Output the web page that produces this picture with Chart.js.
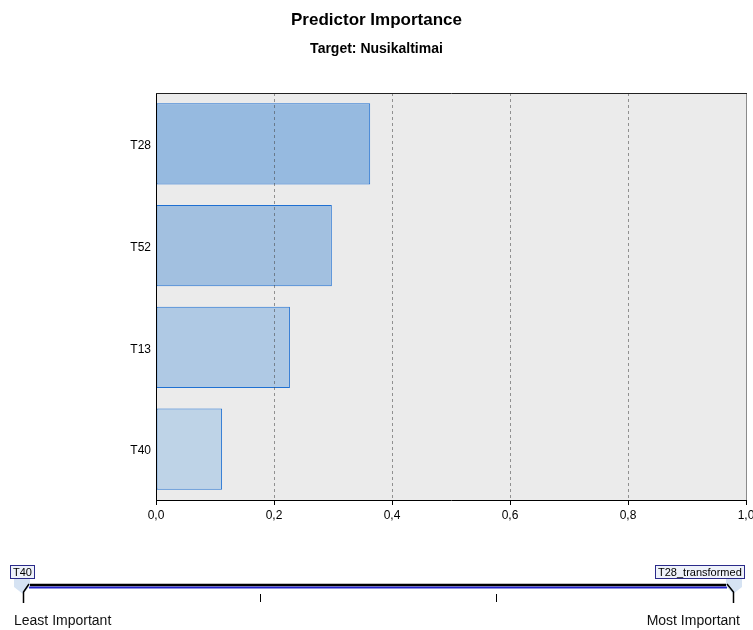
<!DOCTYPE html>
<html>
<head>
<meta charset="utf-8">
<script src="https://cdn.jsdelivr.net/npm/chart.js@4/dist/chart.umd.min.js"></script>
<style>
  html, body { margin: 0; padding: 0; background: #fff; }
  #chart { display: block; }
</style>
</head>
<body>
<canvas id="chart" width="753" height="630"></canvas>
<script>
// Predictors and their importance
const predictors = ["T28", "T52", "T13", "T40"];
const importance = [0.363, 0.298, 0.227, 0.112];
const barColors = ["#96bae0", "#a2c0e0", "#afc9e4", "#bed3e7"];

// Axis and slider text
const chartTitle = "Predictor Importance";
const chartSubtitle = "Target: Nusikaltimai";
const sliderEnds = ["T40", "T28_transformed"];
const sliderCaptions = ["Least Important", "Most Important"];

const FONT = "'Liberation Sans', Arial, sans-serif";

// Grey plot background plus top/right frame
const plotFrame = {
  id: "plotFrame",
  beforeDraw(chart) {
    const { ctx, chartArea: a } = chart;
    ctx.save();
    ctx.fillStyle = "#ebebeb";
    ctx.fillRect(a.left, a.top, a.right - a.left, a.bottom - a.top);
    ctx.restore();
  },
  afterDraw(chart) {
    const { ctx, chartArea: a } = chart;
    ctx.save();
    ctx.lineWidth = 1;
    ctx.strokeStyle = "#8a8a8a";
    ctx.beginPath();
    ctx.moveTo(a.right + 0.5, a.top);
    ctx.lineTo(a.right + 0.5, a.bottom);
    ctx.stroke();
    ctx.strokeStyle = "#222";
    ctx.beginPath();
    ctx.moveTo(a.left, a.top + 0.5);
    ctx.lineTo(a.right + 1, a.top + 0.5);
    ctx.stroke();
    ctx.restore();
  }
};

// Titles and the importance slider under the chart
const headerAndSlider = {
  id: "headerAndSlider",
  afterDraw(chart) {
    const ctx = chart.ctx;
    const w = chart.width;
    ctx.save();
    ctx.fillStyle = "#000";
    ctx.textAlign = "center";
    ctx.textBaseline = "alphabetic";
    ctx.font = "bold 17px " + FONT;
    ctx.fillText(chartTitle, w / 2, 25);
    ctx.font = "bold 14px " + FONT;
    ctx.fillText(chartSubtitle, w / 2, 53);

    const x0 = 23, x1 = 733, yLine = 585;

    // slider bar
    ctx.lineWidth = 2.5;
    ctx.strokeStyle = "#000";
    ctx.beginPath();
    ctx.moveTo(29, yLine);
    ctx.lineTo(727, yLine);
    ctx.stroke();
    ctx.lineWidth = 2;
    ctx.strokeStyle = "#2222c8";
    ctx.beginPath();
    ctx.moveTo(29, yLine + 2.5);
    ctx.lineTo(727, yLine + 2.5);
    ctx.stroke();

    // inner ticks at thirds
    ctx.lineWidth = 1;
    ctx.strokeStyle = "#000";
    for (let i = 1; i < 3; i++) {
      const x = Math.round(x0 + (x1 - x0) * i / 3) + 0.5;
      ctx.beginPath();
      ctx.moveTo(x, 594);
      ctx.lineTo(x, 602);
      ctx.stroke();
    }

    // end handles
    const handle = (x, dir) => {
      ctx.fillStyle = "#d6e3f3";
      ctx.beginPath();
      ctx.moveTo(x - 9 * dir, 579);
      ctx.lineTo(x + 7 * dir, 579);
      ctx.lineTo(x + 7 * dir, 586);
      ctx.lineTo(x, 594);
      ctx.lineTo(x - 9 * dir, 587);
      ctx.closePath();
      ctx.fill();
      ctx.strokeStyle = "#000";
      ctx.lineWidth = 1.5;
      ctx.beginPath();
      ctx.moveTo(x + 6 * dir, 584);
      ctx.lineTo(x + 0.5, 592);
      ctx.lineTo(x + 0.5, 603);
      ctx.stroke();
    };
    handle(x0, 1);
    handle(x1, -1);

    // end labels in boxes
    ctx.font = "11px " + FONT;
    ctx.textBaseline = "middle";
    const box = (text, x, align) => {
      const tw = ctx.measureText(text).width;
      const bw = Math.ceil(tw + 5);
      const bx = align === "left" ? x : x - bw;
      ctx.fillStyle = "#eef2fa";
      ctx.fillRect(bx, 565, bw, 13);
      ctx.strokeStyle = "#2a2a8a";
      ctx.lineWidth = 1;
      ctx.strokeRect(bx + 0.5, 565.5, bw, 13);
      ctx.fillStyle = "#000";
      ctx.textAlign = "left";
      ctx.fillText(text, bx + 3, 572.5);
    };
    box(sliderEnds[0], 10, "left");
    box(sliderEnds[1], 744, "right");

    ctx.font = "14px " + FONT;
    ctx.fillStyle = "#111";
    ctx.textBaseline = "alphabetic";
    ctx.textAlign = "left";
    ctx.fillText(sliderCaptions[0], 14, 625);
    ctx.textAlign = "right";
    ctx.fillText(sliderCaptions[1], 740, 625);
    ctx.restore();
  }
};

new Chart(document.getElementById("chart"), {
  type: "bar",
  data: {
    labels: predictors,
    datasets: [{
      data: importance,
      backgroundColor: barColors,
      borderColor: "#1f70d2",
      borderWidth: 1,
      borderSkipped: false,
      categoryPercentage: 0.8,
      barPercentage: 1.0
    }]
  },
  options: {
    indexAxis: "y",
    responsive: false,
    animation: false,
    layout: { padding: { top: 93, left: 0, right: 7, bottom: 100 } },
    plugins: {
      legend: { display: false },
      tooltip: { enabled: false },
      title: { display: false }
    },
    scales: {
      x: {
        min: 0,
        max: 1,
        afterFit(scale) {
          scale.height = 30;
          scale.paddingLeft = 0;
          scale.paddingRight = 0;
        },
        grid: {
          z: 1,
          color: "rgba(70,70,70,0.55)",
          lineWidth: 1,
          tickLength: 5,
          tickColor: "#000",
          tickBorderDash: []
        },
        border: { display: true, color: "#000", width: 1, z: 2, dash: [3, 3] },
        ticks: {
          stepSize: 0.2,
          padding: 3,
          color: "#000",
          font: { family: FONT, size: 12 },
          maxRotation: 0,
          callback: (v) => Number(v).toFixed(1).replace(".", ",")
        }
      },
      y: {
        afterFit(scale) {
          scale.width = 156;
          scale.paddingTop = 0;
          scale.paddingBottom = 0;
        },
        grid: { display: false, drawTicks: false },
        border: { display: true, color: "#000", width: 1, z: 2 },
        ticks: {
          padding: 5,
          labelOffset: 2,
          color: "#000",
          font: { family: FONT, size: 12 }
        }
      }
    }
  },
  plugins: [plotFrame, headerAndSlider]
});
</script>
</body>
</html>
